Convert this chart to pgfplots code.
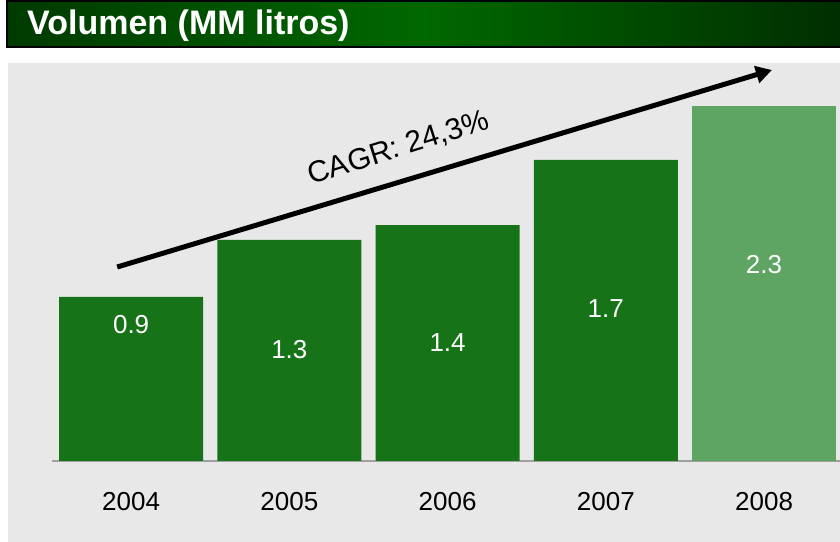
\documentclass[border=0pt]{standalone}
\usepackage{fontspec}
\setmainfont{Liberation Sans}
\usepackage{pgfplots}
\usepackage{pgfplotstable}
\pgfplotsset{compat=1.18}
\usetikzlibrary{arrows.meta}
\definecolor{bardark}{RGB}{22,115,23}
\definecolor{barlight}{RGB}{94,164,99}
\definecolor{panel}{RGB}{232,232,232}
\definecolor{hdark}{RGB}{0,58,0}
\definecolor{hmid}{RGB}{0,104,0}
\definecolor{hright}{RGB}{0,46,0}
\definecolor{baseln}{RGB}{160,160,160}

\pgfplotstableread{
x h
0 0.965
1 1.300
2 1.388
3 1.771
}\darkbars
\pgfplotstableread{
x h
4 2.088
}\lightbars
\pgfplotstableread{
x y label
0 0.800 0.9
1 0.653 1.3
2 0.694 1.4
3 0.894 1.7
4 1.153 2.3
}\barlabels

\begin{document}
\begin{tikzpicture}
\useasboundingbox (0bp,0bp) rectangle (840bp,542bp);
\fill[white] (0bp,0bp) rectangle (840bp,542bp);
\fill[panel] (8bp,0bp) rectangle (840bp,479bp);
\shade[left color=hdark, right color=hright, middle color=hmid] (7bp,495bp) rectangle (840bp,541bp);
\draw[black, line width=1.5bp] (7bp,495bp) rectangle (842bp,541bp);
\node[anchor=base west, text=white, font=\fontsize{34bp}{38bp}\selectfont\bfseries, inner sep=0pt] at (27bp,507bp) {Volumen (MM litros)};
\begin{axis}[
  at={(52bp,81bp)}, anchor=south west,
  scale only axis, width=788bp, height=398bp,
  xmin=-0.5, xmax=4.48, ymin=0, ymax=2.341,
  axis y line=none, axis x line*=bottom,
  x axis line style={baseln, line width=2bp, -},
  xtick={0,1,2,3,4},
  xticklabels={2004,2005,2006,2007,2008},
  major tick length=0pt,
  xticklabel style={font=\fontsize{26bp}{30bp}\selectfont, anchor=center, yshift=-41bp, text=black},
  clip=false,
]
\addplot[ybar, bar width=0.91, bar shift=0pt, fill=bardark, draw=none] table[x=x, y=h] {\darkbars};
\addplot[ybar, bar width=0.91, bar shift=0pt, fill=barlight, draw=none] table[x=x, y=h] {\lightbars};
\addplot[draw=none, mark=none, nodes near coords, point meta=explicit symbolic,
  every node near coord/.style={anchor=center, text=white, font=\fontsize{26bp}{30bp}\selectfont}]
  table[x=x, y=y, meta=label] {\barlabels};
\draw[line width=5bp, -{Triangle[length=16bp, width=17bp]}] (axis cs:-0.088,1.141) -- (axis cs:4.05,2.30);
\node[rotate=17.5, font=\fontsize{30bp}{34bp}\selectfont] at (axis cs:1.69,1.84) {CAGR: 24,3\%};
\end{axis}
\end{tikzpicture}
\end{document}
